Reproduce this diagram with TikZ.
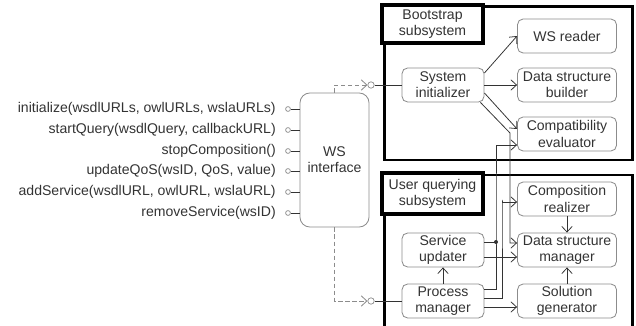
\documentclass[tikz,border=0pt]{standalone}
\usepackage{fontspec}
\setmainfont{Liberation Sans}
\usetikzlibrary{arrows.meta}

\definecolor{inkgray}{HTML}{333333}
\definecolor{boxgray}{HTML}{8C8C8C}

\tikzset{
  comp/.style={draw=boxgray, line width=0.6pt, rounded corners=4pt, align=center, text=inkgray,
    minimum width=2.475cm, minimum height=0.85cm, inner sep=1pt, font=\fontsize{10}{11.5}\selectfont},
  ctrl/.style={comp, minimum width=2.05cm},
  group/.style={draw=black, line width=2.1pt, inner sep=0pt},
  grouplabel/.style={draw=black, line width=2.3pt, fill=white, align=center, text=inkgray,
    minimum width=2.525cm, inner sep=1pt, font=\fontsize{10}{11.5}\selectfont},
  op/.style={anchor=east, text=inkgray, inner sep=0pt, font=\fontsize{10}{12}\selectfont},
  ball/.style={circle, draw=boxgray, line width=0.5pt, inner sep=0pt, minimum size=0.12cm},
  socket/.style={ball, minimum size=0.16cm},
  wire/.style={draw=inkgray, line width=0.55pt},
  conn/.style={wire, -{Straight Barb[length=1.4mm,width=2.6mm]}},
  dep/.style={draw=boxgray, line width=0.6pt, dash pattern=on 3pt off 2pt, -{Straight Barb[length=1.4mm,width=2.6mm]}},
  junction/.style={circle, fill=inkgray, inner sep=0pt, minimum size=0.1cm}
}

\begin{document}
\begin{tikzpicture}[x=0.025cm, y=-0.025cm]
\useasboundingbox (0,0) rectangle (636,326);

\node[group, minimum width=6.175cm, minimum height=3.825cm] (boot) at (508.5,83.5) {};
\node[group, minimum width=6.175cm, minimum height=3.9cm] (user) at (508.5,253) {};
\node[grouplabel, minimum height=0.95cm] (bootlbl) at (432.5,24) {Bootstrap\\subsystem};
\node[grouplabel, minimum height=1.025cm] (userlbl) at (432.5,193.5) {User querying\\subsystem};

\node[comp, minimum width=1.725cm, minimum height=3.35cm, rounded corners=7pt] (wsi) at (334.5,160) {WS\\interface};

\node[ctrl] (si) at (443,85) {System\\initializer};
\node[comp] (wsr) at (567,36) {WS reader};
\node[comp] (dsb) at (567,85) {Data structure\\builder};
\node[comp] (ce) at (567,134) {Compatibility\\evaluator};

\node[ctrl] (su) at (443,250) {Service\\updater};
\node[ctrl] (pm) at (443,301) {Process\\manager};
\node[comp] (cr) at (567,199) {Composition\\realizer};
\node[comp] (dsm) at (567,250) {Data structure\\manager};
\node[comp] (sg) at (567,301) {Solution\\generator};

\node[ball] (b1) at (288,109) {};
\node[ball] (b2) at (288,130) {};
\node[ball] (b3) at (288,151) {};
\node[ball] (b4) at (288,171) {};
\node[ball] (b5) at (288,192) {};
\node[ball] (b6) at (288,213) {};
\node[op] (op1) at (276,109) {initialize(wsdlURLs, owlURLs, wslaURLs)};
\node[op] (op2) at (276,130) {startQuery(wsdlQuery, callbackURL)};
\node[op] (op3) at (276,151) {stopComposition()};
\node[op] (op4) at (276,171) {updateQoS(wsID, QoS, value)};
\node[op] (op5) at (276,192) {addService(wsdlURL, owlURL, wslaURL)};
\node[op] (op6) at (276,213) {removeService(wsID)};
\draw[wire] (b1) -- (b1 -| wsi.west);
\draw[wire] (b2) -- (b2 -| wsi.west);
\draw[wire] (b3) -- (b3 -| wsi.west);
\draw[wire] (b4) -- (b4 -| wsi.west);
\draw[wire] (b5) -- (b5 -| wsi.west);
\draw[wire] (b6) -- (b6 -| wsi.west);

\node[socket] (s1) at (371,85) {};
\node[socket] (s2) at (371,301) {};
\draw[dep] (wsi.north) |- (s1);
\draw[dep] (wsi.south) |- (s2);
\draw[wire] (s1) -- (si.west);
\draw[wire] (s2) -- (pm.west);

\coordinate (busa) at (496,200);
\coordinate (busb) at (502,200);
\coordinate (busc) at (510,133);

\draw[conn] ([yshift=3mm]si.east) -- (wsr.west);
\draw[conn] (si.east) -- (dsb.west);
\draw[conn] ([yshift=-2mm]si.east) -- ([yshift=1.25mm]ce.west);
\draw[conn] ([xshift=-1mm]si.south east) -- (busc) |- ([yshift=1.75mm]dsm.west);

\draw[conn] ([yshift=3mm]pm.east) -| (busa) |- ([yshift=-2.75mm]ce.west);
\draw[conn] ([yshift=0.75mm]pm.east) -| (busb) |- ([yshift=-0.75mm]cr.west);
\draw[conn] ([yshift=-1.5mm]pm.east) -- ([yshift=-1.5mm]sg.west);
\draw[wire] ([yshift=2mm]su.east) -- ([yshift=2mm]su.east -| busa) node[junction] {};
\draw[conn] ([yshift=-1.75mm]su.east) -- ([yshift=-1.75mm]dsm.west);
\draw[conn] (pm.north) -- (su.south);
\draw[conn] (cr.south) -- (dsm.north);
\draw[conn] (sg.north) -- (dsm.south);

\end{tikzpicture}
\end{document}
